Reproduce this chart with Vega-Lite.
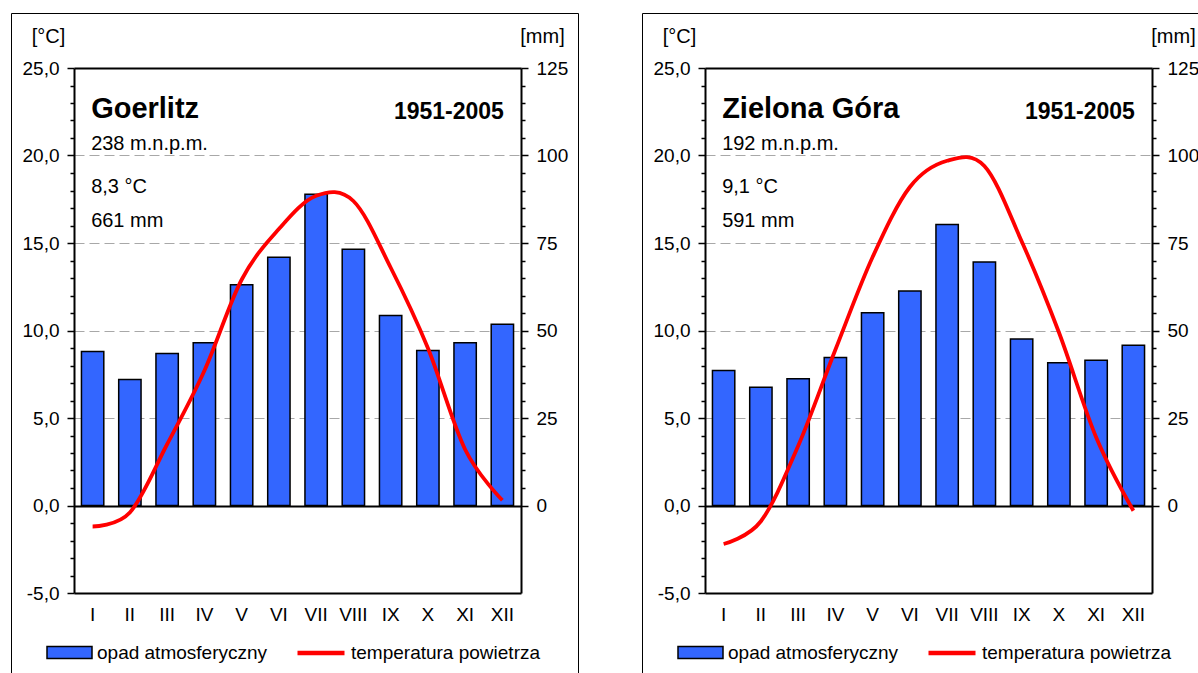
{
  "$schema": "https://vega.github.io/schema/vega-lite/v6.json",
  "padding": {"left": 10, "top": 12, "right": 0, "bottom": 0},
  "autosize": {"type": "pad"},
  "background": "white",
  "spacing": 62,
  "datasets": {
    "goerlitz": [
      {"month": "I", "opad": 44.0, "temp": -1.2},
      {"month": "II", "opad": 36.0, "temp": -0.4},
      {"month": "III", "opad": 43.4, "temp": 3.5},
      {"month": "IV", "opad": 46.5, "temp": 7.7},
      {"month": "V", "opad": 63.1, "temp": 12.9},
      {"month": "VI", "opad": 70.9, "temp": 15.8},
      {"month": "VII", "opad": 88.9, "temp": 17.7},
      {"month": "VIII", "opad": 73.2, "temp": 17.4},
      {"month": "IX", "opad": 54.3, "temp": 13.6},
      {"month": "X", "opad": 44.3, "temp": 9.0},
      {"month": "XI", "opad": 46.5, "temp": 3.2},
      {"month": "XII", "opad": 51.8, "temp": 0.3}
    ],
    "zielona": [
      {"month": "I", "opad": 38.6, "temp": -2.2},
      {"month": "II", "opad": 33.8, "temp": -0.9},
      {"month": "III", "opad": 36.2, "temp": 3.4},
      {"month": "IV", "opad": 42.3, "temp": 8.9},
      {"month": "V", "opad": 55.1, "temp": 14.2},
      {"month": "VI", "opad": 61.3, "temp": 18.2},
      {"month": "VII", "opad": 80.3, "temp": 19.7},
      {"month": "VIII", "opad": 69.6, "temp": 19.4},
      {"month": "IX", "opad": 47.6, "temp": 15.1},
      {"month": "X", "opad": 40.8, "temp": 9.9},
      {"month": "XI", "opad": 41.5, "temp": 3.9},
      {"month": "XII", "opad": 45.8, "temp": -0.3}
    ],
    "info_g": [{"name": "Goerlitz", "elev": "238 m.n.p.m.", "tavg": "8,3 °C", "psum": "661 mm", "period": "1951-2005"}],
    "info_z": [{"name": "Zielona Góra", "elev": "192 m.n.p.m.", "tavg": "9,1 °C", "psum": "591 mm", "period": "1951-2005"}]
  },
  "hconcat": [
    {
      "width": 567, "height": 664,
      "data": {"name": "goerlitz"},
      "layer": [
        {
          "mark": {"type": "bar", "stroke": "black", "strokeWidth": 1.5},
          "encoding": {
            "x": {"field": "month", "type": "nominal", "sort": null,
              "scale": {"domain": ["I","II","III","IV","V","VI","VII","VIII","IX","X","XI","XII"], "range": [63, 510], "paddingInner": 0.4, "paddingOuter": 0.2},
              "axis": {"orient": "bottom", "offset": -84, "title": null, "domain": false, "ticks": false, "labelPadding": 12, "labelAngle": 0, "labelFontSize": 19, "grid": false}},
            "y": {"field": "opad", "type": "quantitative",
              "scale": {"domain": [-25, 125], "range": [580, 55], "nice": false},
              "axis": {"orient": "right", "offset": -57, "tickCount": 100, "values": [0,5,10,15,20,25,30,35,40,45,50,55,60,65,70,75,80,85,90,95,100,105,110,115,120,125],
                "labelExpr": "datum.value % 25 === 0 ? datum.label : ''", "labelOverlap": false,
                "tickSize": {"condition": {"test": "datum.value % 25 === 0", "value": 7}, "value": 4},
                "grid": false, "domainColor": "black", "domainWidth": 2, "tickColor": "black", "tickWidth": 1.5,
                "labelPadding": 8, "labelFontSize": 19,
                "title": "[mm]", "titleAngle": 0, "titleX": 21, "titleY": 23, "titleAlign": "center", "titleBaseline": "middle", "titleFontSize": 20, "titleFontWeight": "normal"}},
            "fill": {"datum": "opad atmosferyczny", "type": "nominal", "scale": {"range": ["#3366ff"]},
              "legend": {"orient": "none", "legendX": 35, "legendY": 616, "title": null, "symbolType": "M-1,-0.27H1V0.27H-1Z", "symbolSize": 2025, "symbolStrokeColor": "black", "symbolStrokeWidth": 1.5, "symbolFillColor": "#3366ff", "labelOffset": 4, "labelLimit": 0, "padding": 0}}
          }
        },
        {
          "layer": [
            {
              "mark": {"type": "line", "interpolate": "cardinal", "strokeWidth": 3.8},
              "encoding": {
                "x": {"field": "month", "type": "nominal", "sort": null},
                "y": {"field": "temp", "type": "quantitative",
                  "scale": {"domain": [-5, 25], "range": [580, 55], "nice": false},
                  "axis": {"orient": "left", "offset": -63, "tickCount": 100,
                    "values": [-5,-4,-3,-2,-1,0,1,2,3,4,5,6,7,8,9,10,11,12,13,14,15,16,17,18,19,20,21,22,23,24,25],
                    "labelExpr": "datum.value % 5 === 0 ? datum.value + ',0' : ''", "labelOverlap": false,
                    "tickSize": {"condition": {"test": "datum.value % 5 === 0", "value": 7}, "value": 4},
                    "domainColor": "black", "domainWidth": 2, "tickColor": "black", "tickWidth": 1.5,
                    "labelPadding": 8, "labelFontSize": 19,
                    "grid": true,
                    "gridColor": {"condition": {"test": "datum.value === 0 || datum.value === 25 || datum.value === -5", "value": "black"}, "value": "#a8a8a8"},
                    "gridDash": {"condition": {"test": "datum.value > 0 && datum.value < 25", "value": [10, 5]}, "value": []},
                    "gridOpacity": {"condition": {"test": "datum.value % 5 === 0", "value": 1}, "value": 0},
                    "gridWidth": {"condition": {"test": "datum.value === 0 || datum.value === 25 || datum.value === -5", "value": 2}, "value": 1},
                    "title": "[°C]", "titleAngle": 0, "titleX": -26, "titleY": 23, "titleAlign": "center", "titleBaseline": "middle", "titleFontSize": 20, "titleFontWeight": "normal"}},
                "stroke": {"datum": "temperatura powietrza", "type": "nominal", "scale": {"range": ["#ff0000"]},
                  "legend": {"orient": "none", "legendX": 284, "legendY": 614, "title": null, "symbolType": "stroke", "symbolSize": 2209, "symbolStrokeWidth": 4.5, "labelOffset": 4, "labelLimit": 0, "padding": 0}}
              }
            },
            {
              "data": {"name": "info_g"},
              "mark": {"type": "text", "align": "left", "baseline": "alphabetic", "fontSize": 29, "fontWeight": "bold", "dx": -1.5},
              "encoding": {"x": {"datum": "I", "type": "nominal"}, "y": {"datum": 22.17, "type": "quantitative"}, "text": {"field": "name"}}
            },
            {
              "data": {"name": "info_g"},
              "mark": {"type": "text", "align": "left", "baseline": "alphabetic", "fontSize": 20, "dx": -1.5},
              "encoding": {"x": {"datum": "I", "type": "nominal"}, "y": {"datum": 20.34, "type": "quantitative"}, "text": {"field": "elev"}}
            },
            {
              "data": {"name": "info_g"},
              "mark": {"type": "text", "align": "left", "baseline": "alphabetic", "fontSize": 20, "dx": -1.5},
              "encoding": {"x": {"datum": "I", "type": "nominal"}, "y": {"datum": 17.85, "type": "quantitative"}, "text": {"field": "tavg"}}
            },
            {
              "data": {"name": "info_g"},
              "mark": {"type": "text", "align": "left", "baseline": "alphabetic", "fontSize": 20, "dx": -1.5},
              "encoding": {"x": {"datum": "I", "type": "nominal"}, "y": {"datum": 15.9, "type": "quantitative"}, "text": {"field": "psum"}}
            },
            {
              "data": {"name": "info_g"},
              "mark": {"type": "text", "align": "right", "baseline": "alphabetic", "fontSize": 23, "fontWeight": "bold", "dx": 1.5},
              "encoding": {"x": {"datum": "XII", "type": "nominal"}, "y": {"datum": 22.1, "type": "quantitative"}, "text": {"field": "period"}}
            }
          ]
        }
      ],
      "resolve": {"scale": {"y": "independent"}}
    },
    {
      "width": 567, "height": 664,
      "data": {"name": "zielona"},
      "layer": [
        {
          "mark": {"type": "bar", "stroke": "black", "strokeWidth": 1.5},
          "encoding": {
            "x": {"field": "month", "type": "nominal", "sort": null,
              "scale": {"domain": ["I","II","III","IV","V","VI","VII","VIII","IX","X","XI","XII"], "range": [63, 510], "paddingInner": 0.4, "paddingOuter": 0.2},
              "axis": {"orient": "bottom", "offset": -84, "title": null, "domain": false, "ticks": false, "labelPadding": 12, "labelAngle": 0, "labelFontSize": 19, "grid": false}},
            "y": {"field": "opad", "type": "quantitative",
              "scale": {"domain": [-25, 125], "range": [580, 55], "nice": false},
              "axis": {"orient": "right", "offset": -57, "tickCount": 100, "values": [0,5,10,15,20,25,30,35,40,45,50,55,60,65,70,75,80,85,90,95,100,105,110,115,120,125],
                "labelExpr": "datum.value % 25 === 0 ? datum.label : ''", "labelOverlap": false,
                "tickSize": {"condition": {"test": "datum.value % 25 === 0", "value": 7}, "value": 4},
                "grid": false, "domainColor": "black", "domainWidth": 2, "tickColor": "black", "tickWidth": 1.5,
                "labelPadding": 8, "labelFontSize": 19,
                "title": "[mm]", "titleAngle": 0, "titleX": 21, "titleY": 23, "titleAlign": "center", "titleBaseline": "middle", "titleFontSize": 20, "titleFontWeight": "normal"}},
            "fill": {"datum": "opad atmosferyczny", "type": "nominal", "scale": {"range": ["#3366ff"]},
              "legend": {"orient": "none", "legendX": 35, "legendY": 616, "title": null, "symbolType": "M-1,-0.27H1V0.27H-1Z", "symbolSize": 2025, "symbolStrokeColor": "black", "symbolStrokeWidth": 1.5, "symbolFillColor": "#3366ff", "labelOffset": 4, "labelLimit": 0, "padding": 0}}
          }
        },
        {
          "layer": [
            {
              "mark": {"type": "line", "interpolate": "cardinal", "strokeWidth": 3.8},
              "encoding": {
                "x": {"field": "month", "type": "nominal", "sort": null},
                "y": {"field": "temp", "type": "quantitative",
                  "scale": {"domain": [-5, 25], "range": [580, 55], "nice": false},
                  "axis": {"orient": "left", "offset": -63, "tickCount": 100,
                    "values": [-5,-4,-3,-2,-1,0,1,2,3,4,5,6,7,8,9,10,11,12,13,14,15,16,17,18,19,20,21,22,23,24,25],
                    "labelExpr": "datum.value % 5 === 0 ? datum.value + ',0' : ''", "labelOverlap": false,
                    "tickSize": {"condition": {"test": "datum.value % 5 === 0", "value": 7}, "value": 4},
                    "domainColor": "black", "domainWidth": 2, "tickColor": "black", "tickWidth": 1.5,
                    "labelPadding": 8, "labelFontSize": 19,
                    "grid": true,
                    "gridColor": {"condition": {"test": "datum.value === 0 || datum.value === 25 || datum.value === -5", "value": "black"}, "value": "#a8a8a8"},
                    "gridDash": {"condition": {"test": "datum.value > 0 && datum.value < 25", "value": [10, 5]}, "value": []},
                    "gridOpacity": {"condition": {"test": "datum.value % 5 === 0", "value": 1}, "value": 0},
                    "gridWidth": {"condition": {"test": "datum.value === 0 || datum.value === 25 || datum.value === -5", "value": 2}, "value": 1},
                    "title": "[°C]", "titleAngle": 0, "titleX": -26, "titleY": 23, "titleAlign": "center", "titleBaseline": "middle", "titleFontSize": 20, "titleFontWeight": "normal"}},
                "stroke": {"datum": "temperatura powietrza", "type": "nominal", "scale": {"range": ["#ff0000"]},
                  "legend": {"orient": "none", "legendX": 284, "legendY": 614, "title": null, "symbolType": "stroke", "symbolSize": 2209, "symbolStrokeWidth": 4.5, "labelOffset": 4, "labelLimit": 0, "padding": 0}}
              }
            },
            {
              "data": {"name": "info_z"},
              "mark": {"type": "text", "align": "left", "baseline": "alphabetic", "fontSize": 29, "fontWeight": "bold", "dx": -1.5},
              "encoding": {"x": {"datum": "I", "type": "nominal"}, "y": {"datum": 22.17, "type": "quantitative"}, "text": {"field": "name"}}
            },
            {
              "data": {"name": "info_z"},
              "mark": {"type": "text", "align": "left", "baseline": "alphabetic", "fontSize": 20, "dx": -1.5},
              "encoding": {"x": {"datum": "I", "type": "nominal"}, "y": {"datum": 20.34, "type": "quantitative"}, "text": {"field": "elev"}}
            },
            {
              "data": {"name": "info_z"},
              "mark": {"type": "text", "align": "left", "baseline": "alphabetic", "fontSize": 20, "dx": -1.5},
              "encoding": {"x": {"datum": "I", "type": "nominal"}, "y": {"datum": 17.85, "type": "quantitative"}, "text": {"field": "tavg"}}
            },
            {
              "data": {"name": "info_z"},
              "mark": {"type": "text", "align": "left", "baseline": "alphabetic", "fontSize": 20, "dx": -1.5},
              "encoding": {"x": {"datum": "I", "type": "nominal"}, "y": {"datum": 15.9, "type": "quantitative"}, "text": {"field": "psum"}}
            },
            {
              "data": {"name": "info_z"},
              "mark": {"type": "text", "align": "right", "baseline": "alphabetic", "fontSize": 23, "fontWeight": "bold", "dx": 1.5},
              "encoding": {"x": {"datum": "XII", "type": "nominal"}, "y": {"datum": 22.1, "type": "quantitative"}, "text": {"field": "period"}}
            }
          ]
        }
      ],
      "resolve": {"scale": {"y": "independent"}}
    }
  ],
  "resolve": {"legend": {"fill": "independent", "stroke": "independent"}},
  "config": {
    "font": "Liberation Sans",
    "view": {"stroke": "black", "strokeWidth": 1, "fill": "white"},
    "axis": {"labelFont": "Liberation Sans", "labelColor": "black", "titleFont": "Liberation Sans", "titleColor": "black"},
    "legend": {"labelFont": "Liberation Sans", "labelFontSize": 19, "labelColor": "black"},
    "text": {"font": "Liberation Sans", "color": "black"}
  }
}
